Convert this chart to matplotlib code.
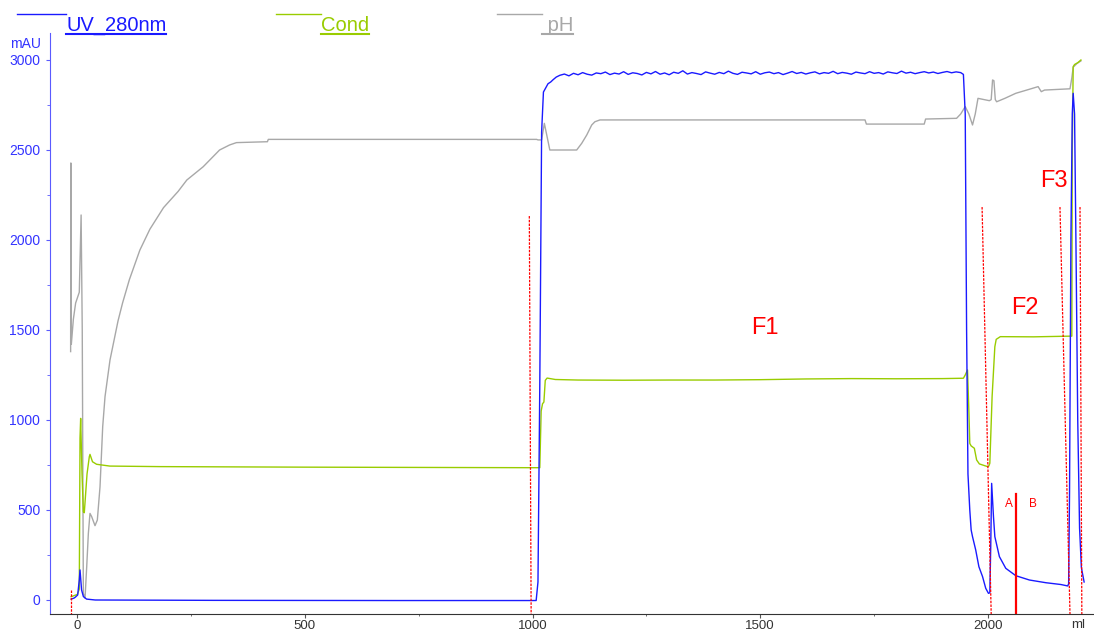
import numpy as np
import matplotlib.pyplot as plt
from matplotlib.lines import Line2D

plt.rcParams['font.family'] = ['Liberation Sans', 'DejaVu Sans']

# UV 280nm trace (mAU) - start, load step, wash and elution
uv_ml = [-13, -7, -4, 1.5, 5, 6.6, 10, 14, 21, 40, 300, 700, 1000, 1008,
         1012, 1016, 1020, 1024, 1029, 1034, 1040, 1045, 1052]
uv_mau = [5, 10, 15, 28, 111, 167, 56, 19, 5, 0, -2, -3, -3, -3,
          100, 1200, 2600, 2822, 2845, 2868, 2878, 2890, 2905]

# noisy plateau of the load, one reading per 10 ml
uv_plat_ml = np.arange(1060, 1941, 10)
uv_plat_mau = [2915, 2922, 2912, 2926, 2918, 2930, 2921, 2916, 2928, 2924,
               2933, 2919, 2927, 2922, 2935, 2920, 2929, 2925, 2917, 2931,
               2923, 2936, 2921, 2928, 2918, 2932, 2926, 2940, 2922, 2930,
               2925, 2919, 2934, 2927, 2921, 2931, 2924, 2938, 2926, 2920,
               2932, 2928, 2923, 2935, 2921, 2929, 2933, 2924, 2930, 2919,
               2927, 2936, 2925, 2931, 2922, 2929, 2934, 2923, 2930, 2926,
               2937, 2924, 2931, 2927, 2921, 2933, 2928, 2924, 2935, 2926,
               2930, 2922, 2934, 2929, 2925, 2938, 2927, 2932, 2924, 2930,
               2935, 2928, 2933, 2925, 2931, 2936, 2929, 2934, 2930]

uv_tail_ml = [1946, 1950, 1953, 1956, 1960, 1963, 1966, 1973, 1980, 1988,
              1995, 2001, 2004, 2006, 2008, 2012, 2015, 2025, 2039, 2061,
              2091, 2127, 2160, 2175, 2177, 2179, 2182, 2185, 2187, 2190,
              2193, 2197, 2201, 2205, 2211]
uv_tail_mau = [2920, 2700, 1500, 700, 500, 389, 352, 278, 185, 130,
               65, 37, 40, 300, 648, 463, 352, 241, 176, 135,
               111, 96, 86, 78, 90, 600, 2000, 2700, 2815, 2700,
               2000, 1000, 400, 180, 100]

# Conductivity (scaled to the mAU axis)
cond_ml = [-13, 0.7, 5, 6.6, 8, 11, 14, 16, 22, 27, 28.5, 34, 43, 72, 182,
           500, 1000, 1016, 1019, 1022, 1025, 1028, 1032, 1050, 1100, 1200,
           1300, 1400, 1500, 1600, 1700, 1800, 1900, 1946, 1950, 1955, 1958,
           1960, 1963, 1970, 1975, 1981, 1999, 2002, 2004, 2009, 2015, 2018,
           2027, 2100, 2184, 2185, 2187, 2190, 2197, 2204]
cond_val = [18, 31, 60, 900, 1009, 700, 490, 485, 700, 796, 809, 768, 754,
            744, 741, 738, 735, 735, 1050, 1090, 1100, 1220, 1233, 1225, 1222,
            1221, 1222, 1222, 1224, 1228, 1230, 1229, 1230, 1232, 1250, 1278,
            1050, 870, 856, 843, 778, 756, 741, 745, 760, 1130, 1407, 1448,
            1463, 1462, 1466, 2500, 2963, 2975, 2985, 3000]

# pH (scaled to the mAU axis)
ph_ml = [-14, -13.5, -12.5, -8, -3, 5, 9, 11.5, 13.9, 17.6, 21.3, 24.9, 28.5,
         32.2, 39.5, 44.6, 50.5, 56.4, 61.5, 72.4, 90, 100, 115, 138, 160,
         190, 222, 241, 277, 313, 335, 350, 418, 420, 1009, 1012, 1020, 1026,
         1038, 1097, 1108, 1119, 1130, 1137, 1148, 1730, 1733, 1860, 1863,
         1931, 1940, 1950, 1958, 1966, 1972, 1978, 2003, 2007, 2010, 2013,
         2016, 2019, 2037, 2061, 2085, 2110, 2117, 2124, 2180, 2184, 2187,
         2195, 2204]
ph_val = [1380, 2428, 1420, 1560, 1650, 1710, 2139, 1500, 37, 10, 185, 370,
          481, 463, 413, 444, 629, 963, 1130, 1333, 1550, 1650, 1780, 1944,
          2060, 2180, 2270, 2333, 2407, 2500, 2528, 2541, 2546, 2559, 2559,
          2556, 2556, 2648, 2500, 2500, 2537, 2583, 2639, 2657, 2667, 2667,
          2644, 2644, 2672, 2676, 2700, 2741, 2700, 2639, 2700, 2787, 2774,
          2780, 2889, 2885, 2780, 2768, 2787, 2815, 2833, 2852, 2824, 2833,
          2840, 2900, 2960, 2980, 2995]

# fraction marks: (ml at top, ml at axis, height of mark)
frac_top_ml = [-13, 993, 1987, 2158, 2202]
frac_bot_ml = [-13, 997, 2007, 2180, 2206]
frac_top = [55, 2133, 2183, 2183, 2183]
frac_names = ['F1', 'F2', 'F3']
frac_name_ml = [1510, 2081, 2145]
frac_name_y = [1511, 1622, 2328]

# pooling cut between A and B
cut_ml = 2062
cut_top = 587
pool_names = ['A', 'B']
pool_ml = [2045, 2099]
pool_y = 533

blue = '#1a1aff'
green = '#99cc00'
grey = '#a8a8a8'
red = '#ff0000'

fig = plt.figure(figsize=(10.94, 6.31), dpi=100)
ax = fig.add_axes([50 / 1094, 17 / 631, 1044 / 1094, 581 / 631])
ymin = -77.8
ax.set_xlim(-59.3, 2232.7)
ax.set_ylim(ymin, 3150)

ax.plot(ph_ml, ph_val, color=grey, lw=1.0)
ax.plot(cond_ml, cond_val, color=green, lw=1.0)
ax.plot(uv_ml + list(uv_plat_ml) + uv_tail_ml,
        uv_mau + uv_plat_mau + uv_tail_mau, color=blue, lw=1.0)

for t, b, h in zip(frac_top_ml, frac_bot_ml, frac_top):
    ax.plot([t, b], [h, ymin], color=red, lw=0.9, ls=(0, (2, 1)), clip_on=False)
for name, x, y in zip(frac_names, frac_name_ml, frac_name_y):
    ax.text(x, y, name, color=red, fontsize=17, ha='center', va='center')

ax.plot([cut_ml, cut_ml], [cut_top, ymin], color=red, lw=1.6)
for name, x in zip(pool_names, pool_ml):
    ax.text(x, pool_y, name, color=red, fontsize=8.5, ha='center', va='center')

# axes styling
for s in ['top', 'right']:
    ax.spines[s].set_visible(False)
ax.spines['left'].set_color('#5a5aff')
ax.spines['bottom'].set_color('#333333')
ax.set_yticks([0, 500, 1000, 1500, 2000, 2500, 3000])
ax.set_yticks(np.arange(250, 3000, 500), minor=True)
ax.set_xticks([0, 500, 1000, 1500, 2000])
ax.set_xticks([250, 750, 1250, 1750], minor=True)
ax.tick_params(axis='y', which='both', colors='#5a5aff', labelcolor='#3333ff',
               labelsize=10, pad=4)
ax.tick_params(axis='y', which='major', length=3)
ax.tick_params(axis='y', which='minor', length=2)
ax.tick_params(axis='x', which='both', colors='#555555', labelcolor='#333333',
               labelsize=9.5, pad=1.5)
ax.tick_params(axis='x', which='major', length=3)
ax.tick_params(axis='x', which='minor', length=1.5)
ax.text(2198, -0.008, 'ml', transform=ax.get_xaxis_transform(),
        ha='center', va='top', fontsize=9.5, color='#333333')

fig.text(26 / 1094, 1 - 44 / 631, 'mAU', ha='center', va='center',
         fontsize=10, color='#3333ff')

# legend across the top with underlined names
legend = [('UV_280nm', blue, 17, 66), ('Cond', green, 276, 321),
          (' pH', grey, 497, 542)]
fig.canvas.draw()
r = fig.canvas.get_renderer()
for label, c, x0, x1 in legend:
    fig.add_artist(Line2D([x0 / 1094, x1 / 1094], [1 - 14 / 631, 1 - 14 / 631],
                          color=c, lw=1.0))
    t = fig.text(x1 / 1094, 1 - 31 / 631, label, color=c, fontsize=14.5,
                 va='baseline', ha='left')
    bb = t.get_window_extent(renderer=r)
    fig.add_artist(Line2D([bb.x0 / 1094, bb.x1 / 1094], [1 - 34 / 631, 1 - 34 / 631],
                          color=c, lw=1.5))

fig.savefig('out.png', dpi=100)
